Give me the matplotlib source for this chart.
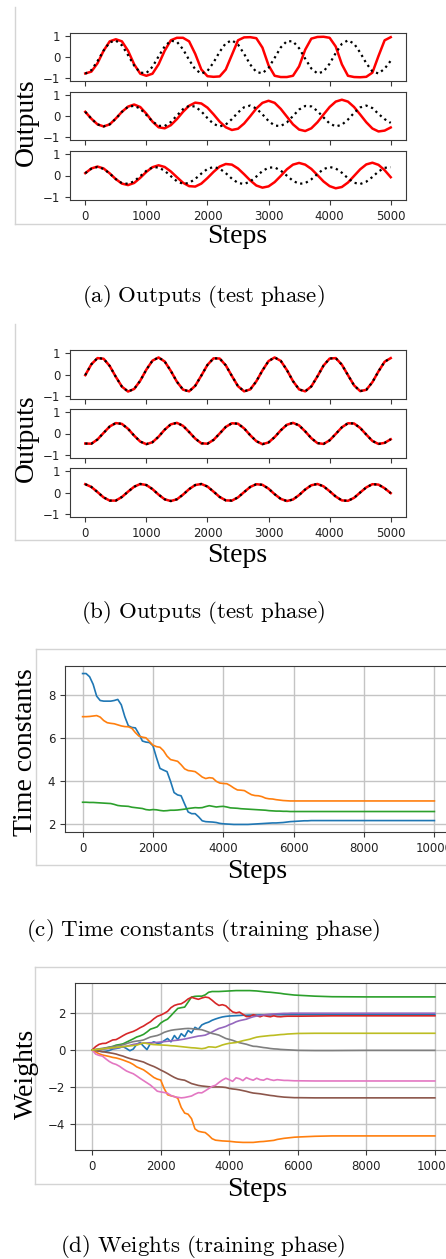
import matplotlib.pyplot as plt
from matplotlib.lines import Line2D
import numpy as np

W, H = 446, 1259

# ---------------- data ----------------
test_steps = np.arange(0, 5001, 100)

# (a) outputs vs targets, test phase (before training)
a_target_1 = [-0.80, -0.63, -0.20, 0.31, 0.70, 0.79, 0.56, 0.09, -0.41, -0.75,
              -0.77, -0.47, 0.03, 0.51, 0.78, 0.73, 0.37, -0.14, -0.59, -0.80,
              -0.67, -0.26, 0.25, 0.66, 0.80, 0.60, 0.15, -0.36, -0.72, -0.78,
              -0.52, -0.04, 0.46, 0.76, 0.75, 0.42, -0.08, -0.55, -0.79, -0.70,
              -0.32, 0.19, 0.63, 0.80, 0.64, 0.21, -0.30, -0.69, -0.79, -0.56,
              -0.18]
a_output_1 = [-0.79, -0.70, -0.30, 0.30, 0.75, 0.85, 0.75, 0.30, -0.35, -0.80,
              -0.90, -0.80, -0.35, 0.30, 0.80, 0.92, 0.92, 0.75, 0.15, -0.60,
              -0.92, -0.95, -0.93, -0.60, 0.10, 0.80, 0.94, 0.95, 0.90, 0.45,
              -0.40, -0.90, -0.96, -0.96, -0.90, -0.45, 0.35, 0.88, 0.96, 0.97,
              0.92, 0.50, -0.35, -0.90, -0.96, -0.97, -0.95, -0.75, 0.05, 0.80,
              0.95]
a_target_2 = [0.20, -0.13, -0.40, -0.50, -0.40, -0.13, 0.20, 0.44, 0.49, 0.35,
              0.05, -0.26, -0.47, -0.48, -0.29, 0.02, 0.33, 0.49, 0.45, 0.22,
              -0.10, -0.38, -0.50, -0.41, -0.15, 0.17, 0.42, 0.50, 0.36, 0.08,
              -0.24, -0.46, -0.48, -0.31, 0.00, 0.31, 0.48, 0.46, 0.24, -0.07,
              -0.36, -0.50, -0.42, -0.17, 0.15, 0.41, 0.50, 0.38, 0.10, -0.15,
              -0.33]
a_output_2 = [0.20, -0.13, -0.40, -0.50, -0.40, -0.12, 0.20, 0.45, 0.55, 0.43,
              0.11, -0.27, -0.54, -0.59, -0.44, -0.15, 0.20, 0.49, 0.64, 0.60,
              0.40, 0.08, -0.27, -0.54, -0.67, -0.61, -0.36, -0.01, 0.36, 0.63,
              0.73, 0.63, 0.34, -0.03, -0.40, -0.65, -0.72, -0.59, -0.30, 0.07,
              0.43, 0.69, 0.78, 0.69, 0.43, 0.07, -0.30, -0.60, -0.74, -0.70,
              -0.55]
a_target_3 = [0.11, 0.32, 0.40, 0.31, 0.09, -0.17, -0.36, -0.39, -0.27, -0.03,
              0.22, 0.38, 0.38, 0.22, -0.03, -0.27, -0.39, -0.35, -0.16, 0.09,
              0.31, 0.40, 0.32, 0.11, -0.15, -0.35, -0.40, -0.28, -0.05, 0.21,
              0.37, 0.38, 0.23, -0.01, -0.25, -0.39, -0.36, -0.18, 0.07, 0.30,
              0.40, 0.33, 0.13, -0.13, -0.34, -0.40, -0.29, -0.07, 0.19, 0.36,
              0.39]
a_output_3 = [0.11, 0.33, 0.42, 0.33, 0.10, -0.17, -0.38, -0.45, -0.35, -0.11,
              0.17, 0.39, 0.48, 0.40, 0.19, -0.08, -0.34, -0.50, -0.52, -0.38,
              -0.12, 0.17, 0.42, 0.54, 0.51, 0.33, 0.06, -0.23, -0.47, -0.57,
              -0.51, -0.31, -0.02, 0.29, 0.51, 0.59, 0.51, 0.31, 0.02, -0.28,
              -0.50, -0.60, -0.54, -0.33, -0.02, 0.29, 0.52, 0.60, 0.50, 0.25,
              -0.08]

# (b) outputs after training: output and target coincide
b_curve_1 = [-0.03, 0.48, 0.77, 0.74, 0.40, -0.11, -0.57, -0.80, -0.68, -0.29,
             0.23, 0.65, 0.80, 0.61, 0.17, -0.34, -0.71, -0.79, -0.53, -0.05,
             0.45, 0.76, 0.75, 0.43, -0.07, -0.55, -0.79, -0.70, -0.32, 0.19,
             0.63, 0.80, 0.64, 0.21, -0.31, -0.70, -0.79, -0.56, -0.09, 0.42,
             0.75, 0.77, 0.46, -0.03, -0.51, -0.78, -0.72, -0.36, 0.15, 0.60,
             0.77]
b_curve_2 = [-0.47, -0.48, -0.28, 0.03, 0.33, 0.49, 0.45, 0.22, -0.10, -0.38,
             -0.50, -0.41, -0.15, 0.18, 0.43, 0.50, 0.36, 0.07, -0.24, -0.46,
             -0.48, -0.30, 0.00, 0.31, 0.48, 0.46, 0.24, -0.08, -0.36, -0.50,
             -0.42, -0.17, 0.15, 0.41, 0.50, 0.38, 0.10, -0.22, -0.45, -0.49,
             -0.32, -0.02, 0.29, 0.48, 0.47, 0.26, -0.05, -0.35, -0.49, -0.44,
             -0.27]
b_curve_3 = [0.39, 0.26, 0.02, -0.23, -0.38, -0.38, -0.21, 0.04, 0.27, 0.40,
             0.35, 0.16, -0.10, -0.32, -0.40, -0.32, -0.10, 0.16, 0.35, 0.40,
             0.28, 0.04, -0.21, -0.37, -0.38, -0.23, 0.02, 0.26, 0.39, 0.36,
             0.18, -0.08, -0.30, -0.40, -0.33, -0.12, 0.14, 0.34, 0.40, 0.29,
             0.06, -0.19, -0.37, -0.39, -0.25, 0.00, 0.24, 0.39, 0.37, 0.20,
             -0.03]

# (c) time constants during training
tau_steps = list(range(0, 7001, 100)) + [8000, 9000, 10000]
tau_1 = [9.00, 9.00, 8.85, 8.50, 7.95, 7.75, 7.72, 7.72, 7.72, 7.75,
         7.80, 7.55, 7.00, 6.58, 6.50, 6.48, 6.20, 5.87, 5.82, 5.80,
         5.65, 5.10, 4.60, 4.52, 4.45, 4.00, 3.48, 3.37, 3.33, 2.95,
         2.58, 2.50, 2.50, 2.35, 2.17, 2.13, 2.12, 2.11, 2.09, 2.05,
         2.03, 2.02, 2.01, 2.00, 2.00, 2.00, 2.00, 2.00, 2.01, 2.02,
         2.03, 2.04, 2.05, 2.06, 2.07, 2.07, 2.08, 2.09, 2.11, 2.13,
         2.14, 2.15, 2.16, 2.17, 2.17, 2.18, 2.18, 2.18, 2.18, 2.18,
         2.18, 2.18, 2.18, 2.18]
tau_2 = [7.00, 7.00, 7.01, 7.03, 7.05, 6.98, 6.82, 6.72, 6.69, 6.67,
         6.62, 6.57, 6.54, 6.53, 6.46, 6.26, 6.10, 6.05, 6.02, 5.85,
         5.68, 5.61, 5.58, 5.42, 5.17, 5.01, 4.97, 4.93, 4.77, 4.58,
         4.50, 4.48, 4.45, 4.33, 4.20, 4.13, 4.17, 4.15, 4.00, 3.92,
         3.90, 3.89, 3.80, 3.69, 3.60, 3.59, 3.57, 3.47, 3.38, 3.34,
         3.33, 3.29, 3.22, 3.19, 3.18, 3.15, 3.13, 3.11, 3.10, 3.09,
         3.09, 3.09, 3.09, 3.09, 3.09, 3.09, 3.09, 3.09, 3.09, 3.09,
         3.09, 3.09, 3.09, 3.09]
tau_3 = [3.03, 3.03, 3.02, 3.02, 3.01, 3.00, 2.99, 2.98, 2.97, 2.93,
         2.88, 2.86, 2.85, 2.84, 2.80, 2.78, 2.76, 2.74, 2.69, 2.67,
         2.69, 2.68, 2.65, 2.63, 2.64, 2.66, 2.66, 2.67, 2.69, 2.71,
         2.74, 2.76, 2.78, 2.77, 2.78, 2.83, 2.87, 2.84, 2.81, 2.83,
         2.84, 2.81, 2.77, 2.76, 2.75, 2.73, 2.72, 2.71, 2.70, 2.69,
         2.68, 2.67, 2.66, 2.64, 2.63, 2.62, 2.62, 2.61, 2.61, 2.60,
         2.60, 2.60, 2.60, 2.60, 2.60, 2.60, 2.60, 2.60, 2.60, 2.60,
         2.60, 2.60, 2.60, 2.60]

# (d) weights during training
w_steps = list(range(0, 6001, 100)) + [6500, 7000, 8000, 9000, 10000]
w_blue = [0.00, -0.03, -0.06, -0.09, -0.07, -0.03, 0.05, 0.08, 0.12, 0.18,
          0.08, -0.04, 0.05, 0.30, 0.40, 0.20, 0.02, 0.35, 0.44, 0.36,
          0.38, 0.50, 0.62, 0.44, 0.78, 0.55, 0.88, 0.72, 1.05, 0.92,
          1.22, 1.12, 1.35, 1.44, 1.50, 1.60, 1.67, 1.73, 1.78, 1.81,
          1.83, 1.84, 1.85, 1.86, 1.87, 1.87, 1.88, 1.88, 1.88, 1.89,
          1.89, 1.89, 1.89, 1.90, 1.90, 1.90, 1.90, 1.90, 1.90, 1.90,
          1.90, 1.90, 1.90, 1.90, 1.90, 1.90]
w_orange = [0.00, -0.10, -0.20, -0.27, -0.31, -0.35, -0.40, -0.43, -0.48, -0.54,
            -0.61, -0.68, -0.78, -0.91, -0.99, -1.07, -1.20, -1.34, -1.48, -1.57,
            -1.62, -2.07, -2.41, -2.47, -2.51, -2.60, -3.10, -3.40, -3.46, -3.70,
            -4.25, -4.38, -4.42, -4.45, -4.60, -4.78, -4.86, -4.88, -4.90, -4.91,
            -4.92, -4.94, -4.96, -4.97, -4.98, -4.98, -4.98, -4.98, -4.96, -4.94,
            -4.93, -4.91, -4.89, -4.87, -4.82, -4.79, -4.76, -4.74, -4.72, -4.70,
            -4.69, -4.65, -4.63, -4.63, -4.63, -4.63]
w_green = [0.00, 0.01, 0.02, 0.05, 0.10, 0.15, 0.19, 0.26, 0.29, 0.33,
           0.42, 0.51, 0.60, 0.70, 0.76, 0.84, 0.97, 1.12, 1.18, 1.25,
           1.45, 1.57, 1.66, 1.85, 2.05, 2.24, 2.28, 2.31, 2.58, 2.85,
           2.89, 2.90, 2.90, 2.97, 3.11, 3.15, 3.15, 3.15, 3.16, 3.17,
           3.18, 3.19, 3.20, 3.20, 3.20, 3.20, 3.20, 3.19, 3.18, 3.16,
           3.14, 3.12, 3.11, 3.09, 3.07, 3.05, 3.02, 3.00, 2.98, 2.96,
           2.95, 2.90, 2.87, 2.86, 2.86, 2.86]
w_red = [0.00, 0.18, 0.30, 0.35, 0.36, 0.45, 0.54, 0.56, 0.66, 0.77,
         0.87, 0.94, 1.00, 1.09, 1.20, 1.29, 1.41, 1.52, 1.68, 1.81,
         1.88, 1.97, 2.08, 2.28, 2.40, 2.46, 2.49, 2.60, 2.75, 2.84,
         2.78, 2.73, 2.80, 2.85, 2.82, 2.68, 2.52, 2.40, 2.44, 2.38,
         2.21, 2.05, 2.00, 2.04, 1.92, 1.80, 1.80, 1.90, 1.85, 1.79,
         1.86, 1.82, 1.79, 1.84, 1.80, 1.79, 1.81, 1.82, 1.82, 1.82,
         1.82, 1.83, 1.84, 1.84, 1.84, 1.84]
w_purple = [0.00, 0.01, 0.02, 0.04, 0.06, 0.08, 0.09, 0.11, 0.14, 0.17,
            0.20, 0.25, 0.30, 0.33, 0.36, 0.37, 0.38, 0.39, 0.39, 0.41,
            0.43, 0.45, 0.47, 0.49, 0.51, 0.53, 0.56, 0.59, 0.63, 0.67,
            0.71, 0.75, 0.77, 0.80, 0.88, 0.97, 1.07, 1.16, 1.21, 1.27,
            1.36, 1.43, 1.52, 1.58, 1.62, 1.66, 1.73, 1.79, 1.83, 1.86,
            1.89, 1.91, 1.93, 1.94, 1.95, 1.96, 1.97, 1.97, 1.98, 1.98,
            1.98, 1.98, 1.98, 1.98, 1.98, 1.98]
w_brown = [0.00, -0.03, -0.06, -0.09, -0.12, -0.15, -0.18, -0.22, -0.28, -0.33,
           -0.40, -0.46, -0.51, -0.55, -0.60, -0.65, -0.74, -0.82, -0.89, -0.98,
           -1.08, -1.17, -1.27, -1.38, -1.48, -1.56, -1.60, -1.63, -1.72, -1.81,
           -1.86, -1.91, -1.94, -1.96, -1.98, -1.99, -1.99, -1.99, -2.00, -2.02,
           -2.07, -2.10, -2.12, -2.15, -2.19, -2.23, -2.28, -2.32, -2.34, -2.36,
           -2.39, -2.42, -2.45, -2.47, -2.50, -2.52, -2.54, -2.55, -2.56, -2.57,
           -2.57, -2.58, -2.58, -2.58, -2.58, -2.58]
w_pink = [0.00, -0.22, -0.29, -0.33, -0.48, -0.62, -0.72, -0.78, -0.88, -1.01,
          -1.13, -1.21, -1.28, -1.40, -1.53, -1.65, -1.77, -1.89, -2.05, -2.22,
          -2.26, -2.29, -2.33, -2.45, -2.52, -2.55, -2.58, -2.56, -2.52, -2.48,
          -2.38, -2.30, -2.31, -2.20, -2.08, -1.96, -1.90, -1.75, -1.62, -1.52,
          -1.60, -1.69, -1.50, -1.55, -1.65, -1.49, -1.57, -1.63, -1.52, -1.60,
          -1.63, -1.54, -1.60, -1.64, -1.60, -1.62, -1.64, -1.64, -1.65, -1.66,
          -1.66, -1.67, -1.67, -1.67, -1.67, -1.67]
w_gray = [0.00, 0.03, 0.06, 0.09, 0.12, 0.15, 0.18, 0.21, 0.24, 0.28,
          0.34, 0.40, 0.45, 0.48, 0.50, 0.54, 0.62, 0.70, 0.74, 0.78,
          0.85, 0.95, 1.01, 1.06, 1.09, 1.11, 1.13, 1.15, 1.16, 1.15,
          1.12, 1.11, 1.09, 1.03, 0.96, 0.89, 0.85, 0.80, 0.71, 0.62,
          0.57, 0.52, 0.45, 0.39, 0.35, 0.31, 0.25, 0.20, 0.19, 0.16,
          0.13, 0.11, 0.08, 0.06, 0.05, 0.03, 0.02, 0.01, 0.00, -0.01,
          -0.02, -0.03, -0.03, -0.02, -0.02, -0.02]
w_olive = [0.00, 0.02, 0.04, 0.06, 0.08, 0.10, 0.12, 0.14, 0.16, 0.18,
           0.20, 0.22, 0.24, 0.26, 0.32, 0.38, 0.35, 0.31, 0.29, 0.28,
           0.27, 0.26, 0.25, 0.23, 0.22, 0.20, 0.18, 0.16, 0.14, 0.12,
           0.11, 0.09, 0.07, 0.10, 0.17, 0.16, 0.14, 0.20, 0.27, 0.32,
           0.36, 0.38, 0.40, 0.45, 0.50, 0.54, 0.58, 0.64, 0.69, 0.72,
           0.74, 0.76, 0.78, 0.79, 0.81, 0.83, 0.84, 0.86, 0.87, 0.88,
           0.89, 0.90, 0.90, 0.90, 0.90, 0.90]

test_ticks = [0, 1000, 2000, 3000, 4000, 5000]
train_ticks = [0, 2000, 4000, 6000, 8000, 10000]

# ---------------- figure ----------------
plt.rcParams['font.size'] = 8.5
plt.rcParams['mathtext.fontset'] = 'cm'
plt.rcParams['axes.edgecolor'] = '#3a3a3a'
plt.rcParams['xtick.color'] = '#3a3a3a'
plt.rcParams['ytick.color'] = '#3a3a3a'
plt.rcParams['xtick.labelcolor'] = '#222222'
plt.rcParams['ytick.labelcolor'] = '#222222'

fig = plt.figure(figsize=(W / 100, H / 100), dpi=100)
SERIF = 'Liberation Serif'
FRAME = '#d4d4d4'


def px_axes(x0, y0, x1, y1):
    # pixel box (left, top, right, bottom) -> figure axes
    return fig.add_axes([x0 / W, 1 - y1 / H, (x1 - x0) / W, (y1 - y0) / H])


def px_text(x, y, s, **kw):
    fig.text(x / W, 1 - y / H, s, **kw)


def frame(x0, y0, y1, top=False):
    fig.add_artist(Line2D([x0 / W, x0 / W], [1 - y0 / H, 1 - y1 / H],
                          color=FRAME, lw=1.0, transform=fig.transFigure))
    fig.add_artist(Line2D([x0 / W, 1.0], [1 - y1 / H, 1 - y1 / H],
                          color=FRAME, lw=1.0, transform=fig.transFigure))
    if top:
        fig.add_artist(Line2D([x0 / W, 1.0], [1 - y0 / H, 1 - y0 / H],
                              color=FRAME, lw=1.0, transform=fig.transFigure))


def caption(y, s):
    px_text(203, y, s, ha='center', va='center', fontsize=16.5)


# (a) and (b): three stacked output panels
def output_block(top_rows, pairs):
    axes = []
    for (y0, y1), (target, output) in zip(top_rows, pairs):
        ax = px_axes(70, y0, 406, y1)
        ax.plot(test_steps, output, color='red', lw=1.8)
        ax.plot(test_steps, target, color='black', lw=1.6, linestyle=':')
        ax.set_xlim(-250, 5250)
        ax.set_ylim(-1.15, 1.15)
        ax.set_yticks([-1, 0, 1])
        ax.set_xticks(test_ticks)
        axes.append(ax)
    for ax in axes[:-1]:
        ax.tick_params(labelbottom=False)
    return axes


frame(15, 7, 224)
output_block([(33, 81), (92, 140), (151, 200)],
             [(a_target_1, a_output_1), (a_target_2, a_output_2), (a_target_3, a_output_3)])
px_text(26, 122, 'Outputs', rotation=90, ha='center', va='center', fontsize=20, family=SERIF)
px_text(237, 237, 'Steps', ha='center', va='center', fontsize=20, family=SERIF)
caption(296, r'$\mathrm{(a)\ Outputs\ (test\ phase)}$')

frame(15, 324, 540)
output_block([(350, 399), (409, 458), (468, 517)],
             [(b_curve_1, b_curve_1), (b_curve_2, b_curve_2), (b_curve_3, b_curve_3)])
px_text(26, 438, 'Outputs', rotation=90, ha='center', va='center', fontsize=20, family=SERIF)
px_text(237, 555, 'Steps', ha='center', va='center', fontsize=20, family=SERIF)
caption(612, r'$\mathrm{(b)\ Outputs\ (test\ phase)}$')

# (c) time constants
frame(36, 649, 865, top=True)
axc = px_axes(65, 666, 452, 832)
for vals in (tau_1, tau_2, tau_3):
    axc.plot(tau_steps, vals, lw=1.2)
axc.set_xlim(-500, 10500)
axc.set_xticks(train_ticks)
axc.set_yticks([2, 4, 6, 8])
axc.grid(True, color='#c4c4c4', lw=1.0)
px_text(26, 752, 'Time constants', rotation=90, ha='center', va='center', fontsize=20, family=SERIF)
px_text(257, 872, 'Steps', ha='center', va='center', fontsize=20, family=SERIF)
caption(931, r'$\mathrm{(c)\ Time\ constants\ (training\ phase)}$')

# (d) weights
frame(35, 967, 1184, top=True)
axd = px_axes(75, 983, 452, 1150)
for vals in (w_blue, w_orange, w_green, w_red, w_purple, w_brown, w_pink, w_gray, w_olive):
    axd.plot(w_steps, vals, lw=1.2)
axd.set_xlim(-500, 10500)
axd.set_xticks(train_ticks)
axd.set_yticks([-4, -2, 0, 2])
axd.grid(True, color='#c4c4c4', lw=1.0)
px_text(26, 1074, 'Weights', rotation=90, ha='center', va='center', fontsize=20, family=SERIF)
px_text(257, 1190, 'Steps', ha='center', va='center', fontsize=20, family=SERIF)
caption(1247, r'$\mathrm{(d)\ Weights\ (training\ phase)}$')

fig.savefig('out.png', dpi=100)
